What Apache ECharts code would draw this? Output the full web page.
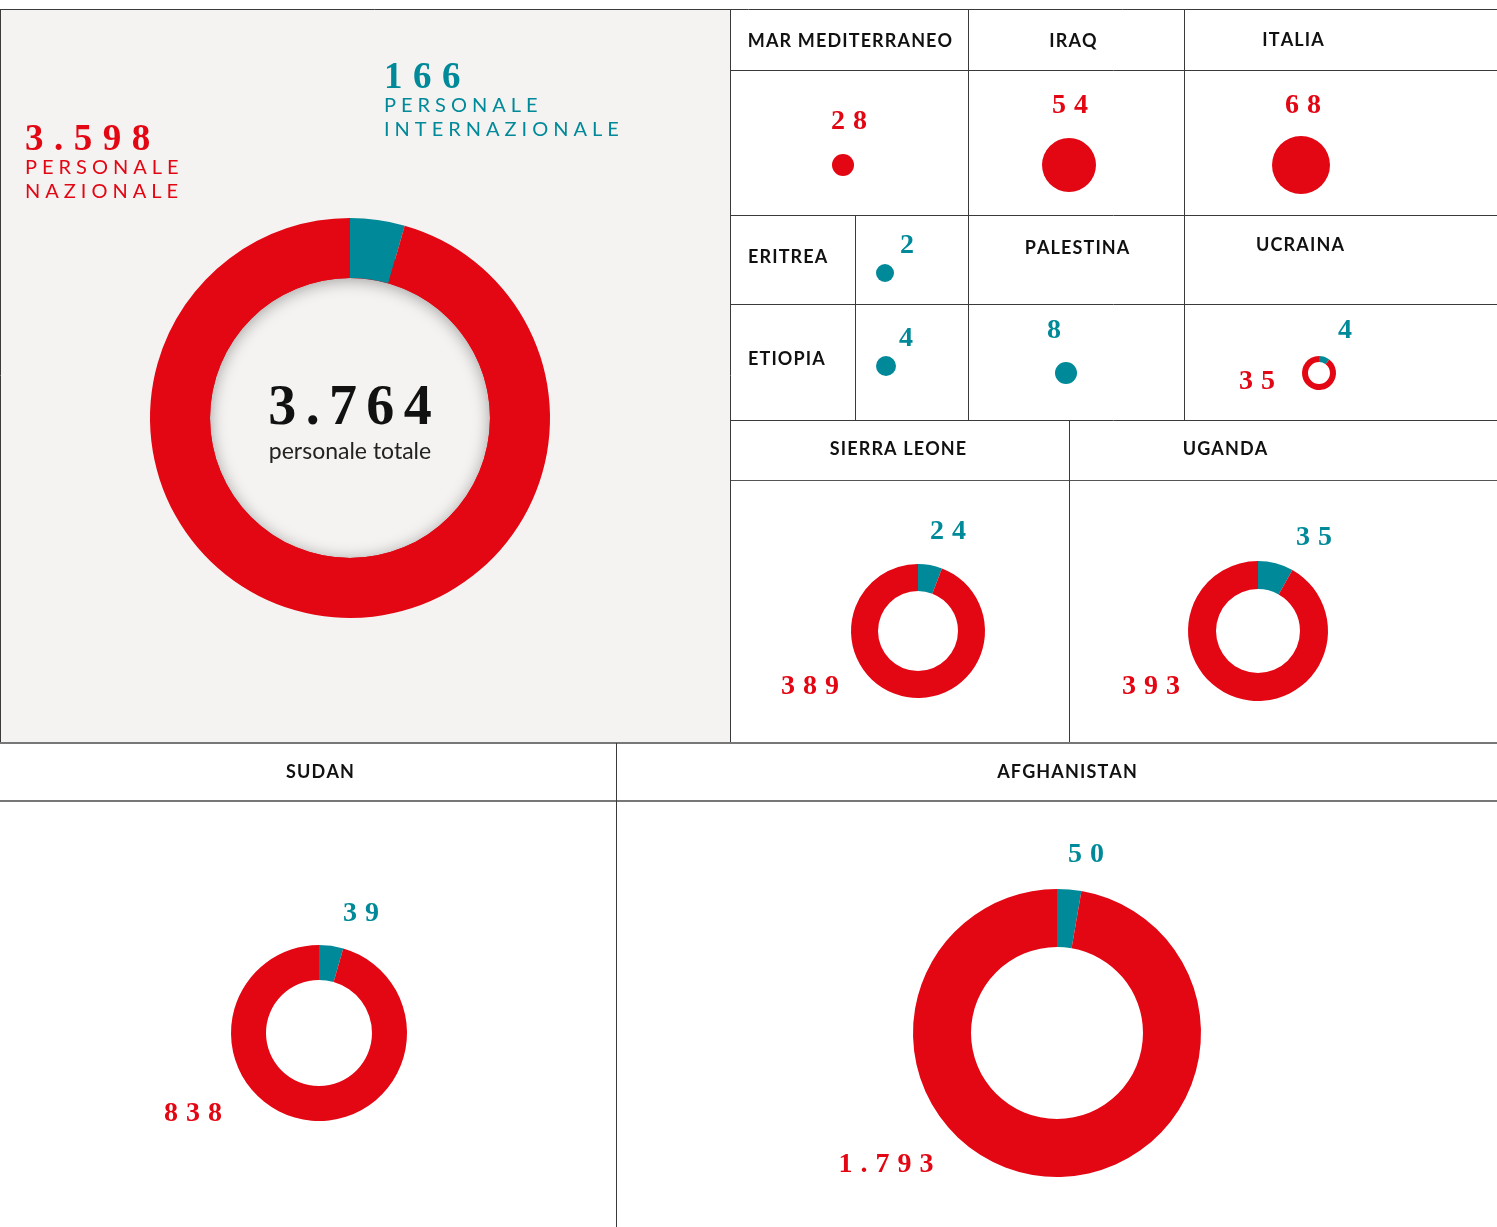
<!DOCTYPE html>
<html>
<head>
<meta charset="utf-8">
<title>Personale</title>
<script src="https://cdn.jsdelivr.net/npm/echarts@6/dist/echarts.min.js"></script>
<style>
  html, body { margin: 0; padding: 0; background: #fff; }
  #chart { width: 1497px; height: 1227px; }
</style>
</head>
<body>
<div id="chart"></div>
<script>
// dati
const paesi = ["MAR MEDITERRANEO", "IRAQ", "ITALIA", "ERITREA", "ETIOPIA", "PALESTINA",
  "UCRAINA", "SIERRA LEONE", "UGANDA", "SUDAN", "AFGHANISTAN"];
const nazionale = [28, 54, 68, 0, 0, 0, 35, 389, 393, 838, 1793];
const internazionale = [0, 0, 0, 2, 4, 8, 4, 24, 35, 39, 50];

const RED = "#e30613";
const TEAL = "#008998";
const GRAY = "#f4f3f1";

// layout of each cell: header, pie centre / radius, label positions
const layout = [
  { h: [850, 41], c: [843, 165], r: 11, red: [849, 122] },
  { h: [1073, 41], c: [1069, 165], r: 27, red: [1070, 106] },
  { h: [1293, 40], c: [1301, 165], r: 29, red: [1303, 106] },
  { h: [748, 257], left: true, c: [885, 273], r: 9, teal: [907, 246] },
  { h: [748, 359], left: true, c: [886, 366], r: 10, teal: [906, 339] },
  { h: [1077, 248], c: [1066, 373], r: 11, teal: [1054, 331] },
  { h: [1300, 245], c: [1319, 373], r: [11, 17], teal: [1345, 331], red: [1257, 382] },
  { h: [898, 449], c: [918, 631], r: [40, 67], teal: [948, 532], red: [810, 687] },
  { h: [1225, 449], c: [1258, 631], r: [42, 70], teal: [1314, 538], red: [1151, 687] },
  { h: [320, 772], c: [319, 1033], r: [53, 88], teal: [361, 914], red: [193, 1114] },
  { h: [1067, 772], c: [1057, 1033], r: [86, 144], teal: [1086, 855], red: [886, 1165] }
];

function fmt(n) {
  return String(n).replace(/\B(?=(\d{3})+(?!\d))/g, ".");
}
function spaced(s, sp) {
  return s.split("").join(sp || "\u2009");
}

const totNaz = nazionale.reduce((a, b) => a + b, 0);
const totInt = internazionale.reduce((a, b) => a + b, 0);

const numFont = "Liberation Serif";
const sansFont = "Lato";
const NUMSP = "\u2009\u200a";
const CAPSP = "\u2009\u2009";

const graphics = [];
graphics.push({ type: "rect", z2: 0, shape: { x: 0, y: 10, width: 730, height: 733 }, style: { fill: GRAY } });
// inner shadow for the main donut hole
graphics.push({
  type: "ring", z2: 1, shape: { cx: 350, cy: 418, r: 165, r0: 140 },
  style: { fill: RED, shadowBlur: 16, shadowColor: "rgba(0,0,0,0.35)", shadowOffsetY: 2 }
});

function hline(y, x1, x2, w, col) {
  graphics.push({ type: "line", z2: 5, shape: { x1: x1, y1: y, x2: x2, y2: y }, style: { stroke: col || "#3a3a3a", lineWidth: w || 1 } });
}
function vline(x, y1, y2, w, col) {
  graphics.push({ type: "line", z2: 5, shape: { x1: x, y1: y1, x2: x, y2: y2 }, style: { stroke: col || "#3a3a3a", lineWidth: w || 1 } });
}
hline(9.5, 0, 1497);
hline(70.5, 730, 1497);
hline(215.5, 730, 1497);
hline(304.5, 730, 1497);
hline(420.5, 730, 1497);
hline(480.5, 730, 1497, 1.2, "#555");
hline(743, 0, 1497, 2, "#777");
hline(801, 0, 1497, 2, "#777");
vline(0.5, 9, 742);
vline(730.5, 9, 742);
vline(968.5, 9, 420);
vline(1184.5, 9, 420);
vline(855.5, 215, 420);
vline(1069.5, 420, 742);
vline(616.5, 743, 1227);

function text(x, y, s, font, color, align) {
  graphics.push({
    type: "text", z2: 10, x: x, y: y,
    style: { text: s, font: font, fill: color, align: align || "center", verticalAlign: "middle" }
  });
}

// main labels
text(25, 140, spaced(fmt(totNaz), NUMSP), "bold 37px '" + numFont + "'", RED, "left");
text(25, 168, spaced("PERSONALE", CAPSP), "400 20px '" + sansFont + "'", RED, "left");
text(25, 192, spaced("NAZIONALE", CAPSP), "400 20px '" + sansFont + "'", RED, "left");
text(384, 78, spaced(fmt(totInt), NUMSP), "bold 37px '" + numFont + "'", TEAL, "left");
text(384, 106, spaced("PERSONALE", CAPSP), "400 20px '" + sansFont + "'", TEAL, "left");
text(384, 130, spaced("INTERNAZIONALE", CAPSP), "400 20px '" + sansFont + "'", TEAL, "left");
text(350, 410, spaced(fmt(totNaz + totInt), "\u200a\u200a"), "bold 56px '" + numFont + "'", "#111");
text(350, 452, "personale totale", "400 23px '" + sansFont + "'", "#222");

const series = [{
  type: "pie", silent: true, z: 3,
  center: [350, 418], radius: [140, 200], startAngle: 90, clockwise: true,
  label: { show: false }, labelLine: { show: false }, emphasis: { disabled: true },
  data: [
    { name: "internazionale", value: totInt, itemStyle: { color: TEAL } },
    { name: "nazionale", value: totNaz, itemStyle: { color: RED } }
  ]
}];

paesi.forEach((p, i) => {
  const L = layout[i];
  text(L.h[0], L.h[1], spaced(p, "\u200a"), "bold 18px '" + sansFont + "'", "#111", L.left ? "left" : "center");
  if (L.teal && internazionale[i]) text(L.teal[0], L.teal[1], spaced(fmt(internazionale[i]), NUMSP), "bold 28px '" + numFont + "'", TEAL);
  if (L.red && nazionale[i]) text(L.red[0], L.red[1], spaced(fmt(nazionale[i]), NUMSP), "bold 28px '" + numFont + "'", RED);
  const data = [];
  if (internazionale[i]) data.push({ name: "internazionale", value: internazionale[i], itemStyle: { color: TEAL } });
  if (nazionale[i]) data.push({ name: "nazionale", value: nazionale[i], itemStyle: { color: RED } });
  series.push({
    type: "pie", silent: true, z: 3,
    center: L.c, radius: Array.isArray(L.r) ? L.r : [0, L.r], startAngle: 90, clockwise: true,
    label: { show: false }, labelLine: { show: false }, emphasis: { disabled: true },
    data: data
  });
});

const chart = echarts.init(document.getElementById("chart"), null, { renderer: "canvas" });
chart.setOption({
  animation: false,
  graphic: { elements: graphics },
  series: series
});
</script>
</body>
</html>
